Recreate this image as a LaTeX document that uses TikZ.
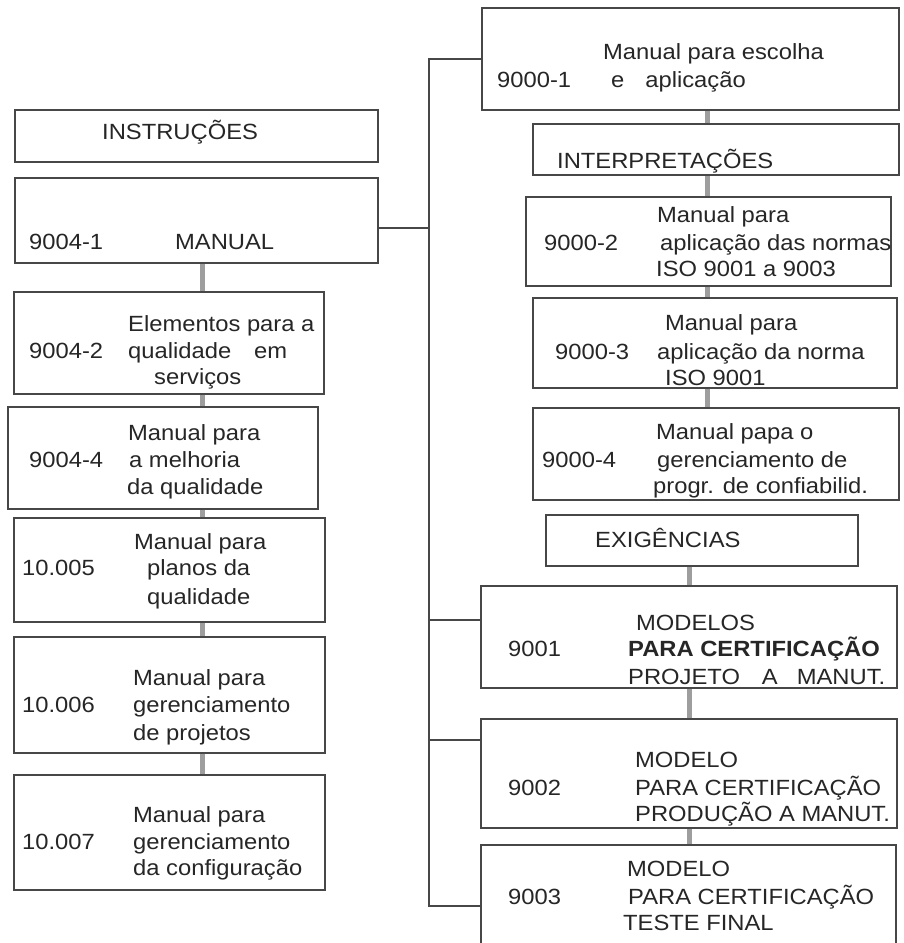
\documentclass[tikz,border=0pt]{standalone}
\usepackage{fontspec}
\setmainfont{Liberation Sans}[FakeStretch=1.08]
\usetikzlibrary{fit}
\tikzset{
  box/.style={draw=black!72, line width=1.3pt, inner sep=0pt},
  txt/.style={anchor=base west, inner sep=0pt, font=\fontsize{22}{26}\selectfont, text=black!85},
  gbar/.style={draw=black!38, line width=5pt},
  tree/.style={draw=black!72, line width=1.1pt},
}
\newcommand{\tx}[4]{\node[txt] (#1) at (#2,#3+7) {#4};}
\begin{document}
\begin{tikzpicture}[x=1pt,y=-1pt]
\fill[white] (0,0) rectangle (904,943);
\useasboundingbox (0,0) rectangle (904,943);
\clip (0,0) rectangle (904,943);

% ---------- left column boxes ----------
\node[box, fit={(15,110) (378,162)}] (L0) {};
\node[box, fit={(15,178) (378,263)}] (L1) {};
\node[box, fit={(14,292) (324,394)}] (L2) {};
\node[box, fit={(8,407) (318,509)}]  (L3) {};
\node[box, fit={(14,518) (325,622)}] (L4) {};
\node[box, fit={(14,637) (325,753)}] (L5) {};
\node[box, fit={(14,775) (325,890)}] (L6) {};

% ---------- right column boxes ----------
\node[box, fit={(482,8) (899,110)}]   (R0) {};
\node[box, fit={(533,124) (899,175)}] (R1) {};
\node[box, fit={(526,197) (891,286)}] (R2) {};
\node[box, fit={(533,298) (897,388)}] (R3) {};
\node[box, fit={(533,408) (899,500)}] (R4) {};
\node[box, fit={(546,515) (858,566)}] (R5) {};
\node[box, fit={(481,586) (897,688)}] (R6) {};
\node[box, fit={(481,719) (897,828)}] (R7) {};
\node[box, fit={(481,845) (896,970)}] (R8) {};

% ---------- gray connectors ----------
\coordinate (lc) at (202,0);
\draw[gbar] (lc |- L1.south) -- (lc |- L2.north);
\draw[gbar] (lc |- L2.south) -- (lc |- L3.north);
\draw[gbar] (lc |- L3.south) -- (lc |- L4.north);
\draw[gbar] (lc |- L4.south) -- (lc |- L5.north);
\draw[gbar] (lc |- L5.south) -- (lc |- L6.north);

\coordinate (rc1) at (707,0);
\coordinate (rc2) at (689,0);
\draw[gbar] (rc1 |- R0.south) -- (rc1 |- R1.north);
\draw[gbar] (rc1 |- R1.south) -- (rc1 |- R2.north);
\draw[gbar] (rc1 |- R2.south) -- (rc1 |- R3.north);
\draw[gbar] (rc1 |- R3.south) -- (rc1 |- R4.north);
\draw[gbar] (rc2 |- R5.south) -- (rc2 |- R6.north);
\draw[gbar] (rc2 |- R6.south) -- (rc2 |- R7.north);
\draw[gbar] (rc2 |- R7.south) -- (rc2 |- R8.north);

% ---------- tree lines ----------
\coordinate (tt) at (429,59);
\coordinate (tb) at (429,906);
\coordinate (s1) at (429,228);
\coordinate (s2) at (429,620);
\coordinate (s3) at (429,740);
\draw[tree] (tt -| R0.west) -- (tt) -- (tb) -- (tb -| R8.west);
\draw[tree] (L1.east |- s1) -- (s1);
\draw[tree] (s2) -- (s2 -| R6.west);
\draw[tree] (s3) -- (s3 -| R7.west);

% ---------- left texts ----------
\tx{a0}{102}{132}{INSTRUÇÕES}
\tx{a1}{29}{242}{9004-1}
\tx{a2}{175}{242}{MANUAL}
\tx{b0}{29}{351}{9004-2}
\tx{b1}{128}{324}{Elementos para a}
\tx{b2}{128}{351}{qualidade\hspace{23pt}em}
\tx{b3}{154}{377}{serviços}
\tx{c0}{29}{460}{9004-4}
\tx{c1}{128}{433}{Manual para}
\tx{c2}{129}{460}{a melhoria}
\tx{c3}{127}{487}{da qualidade}
\tx{d0}{22}{568}{10.005}
\tx{d1}{134}{542}{Manual para}
\tx{d2}{147}{568}{planos da}
\tx{d3}{147}{597}{qualidade}
\tx{e0}{22}{705}{10.006}
\tx{e1}{133}{678}{Manual para}
\tx{e2}{133}{705}{gerenciamento}
\tx{e3}{133}{733}{de projetos}
\tx{f0}{22}{842}{10.007}
\tx{f1}{133}{815}{Manual para}
\tx{f2}{133}{842}{gerenciamento}
\tx{f3}{133}{868}{da configuração}

% ---------- right texts ----------
\tx{g1}{603}{52}{Manual para escolha}
\tx{g0}{497}{80}{9000-1}
\tx{g2}{611}{80}{e\hspace{21pt}aplicação}
\tx{h0}{557}{161}{INTERPRETAÇÕES}
\tx{i0}{544}{243}{9000-2}
\tx{i1}{657}{215}{Manual para}
\tx{i2}{660}{243}{aplicação das normas}
\tx{i3}{656}{269}{ISO 9001 a 9003}
\tx{j0}{555}{352}{9000-3}
\tx{j1}{665}{323}{Manual para}
\tx{j2}{657}{352}{aplicação da norma}
\tx{j3}{665}{378}{ISO 9001}
\tx{k0}{542}{460}{9000-4}
\tx{k1}{656}{432}{Manual papa o}
\tx{k2}{657}{460}{gerenciamento de}
\tx{k3}{653}{486}{progr. de confiabilid.}
\tx{m0}{595}{540}{EXIGÊNCIAS}
\tx{n0}{508}{649}{9001}
\tx{n1}{636}{623}{MODELOS}
\tx{n2}{628}{649}{\bfseries PARA CERTIFICAÇÃO}
\tx{n3}{628}{677}{PROJETO\hspace{22pt}A\hspace{19pt}MANUT.}
\tx{o0}{508}{788}{9002}
\tx{o1}{635}{760}{MODELO}
\tx{o2}{635}{788}{PARA CERTIFICAÇÃO}
\tx{o3}{635}{814}{PRODUÇÃO A MANUT.}
\tx{p0}{508}{897}{9003}
\tx{p1}{627}{869}{MODELO}
\tx{p2}{628}{897}{PARA CERTIFICAÇÃO}
\tx{p3}{623}{923}{TESTE FINAL}
\end{tikzpicture}
\end{document}
